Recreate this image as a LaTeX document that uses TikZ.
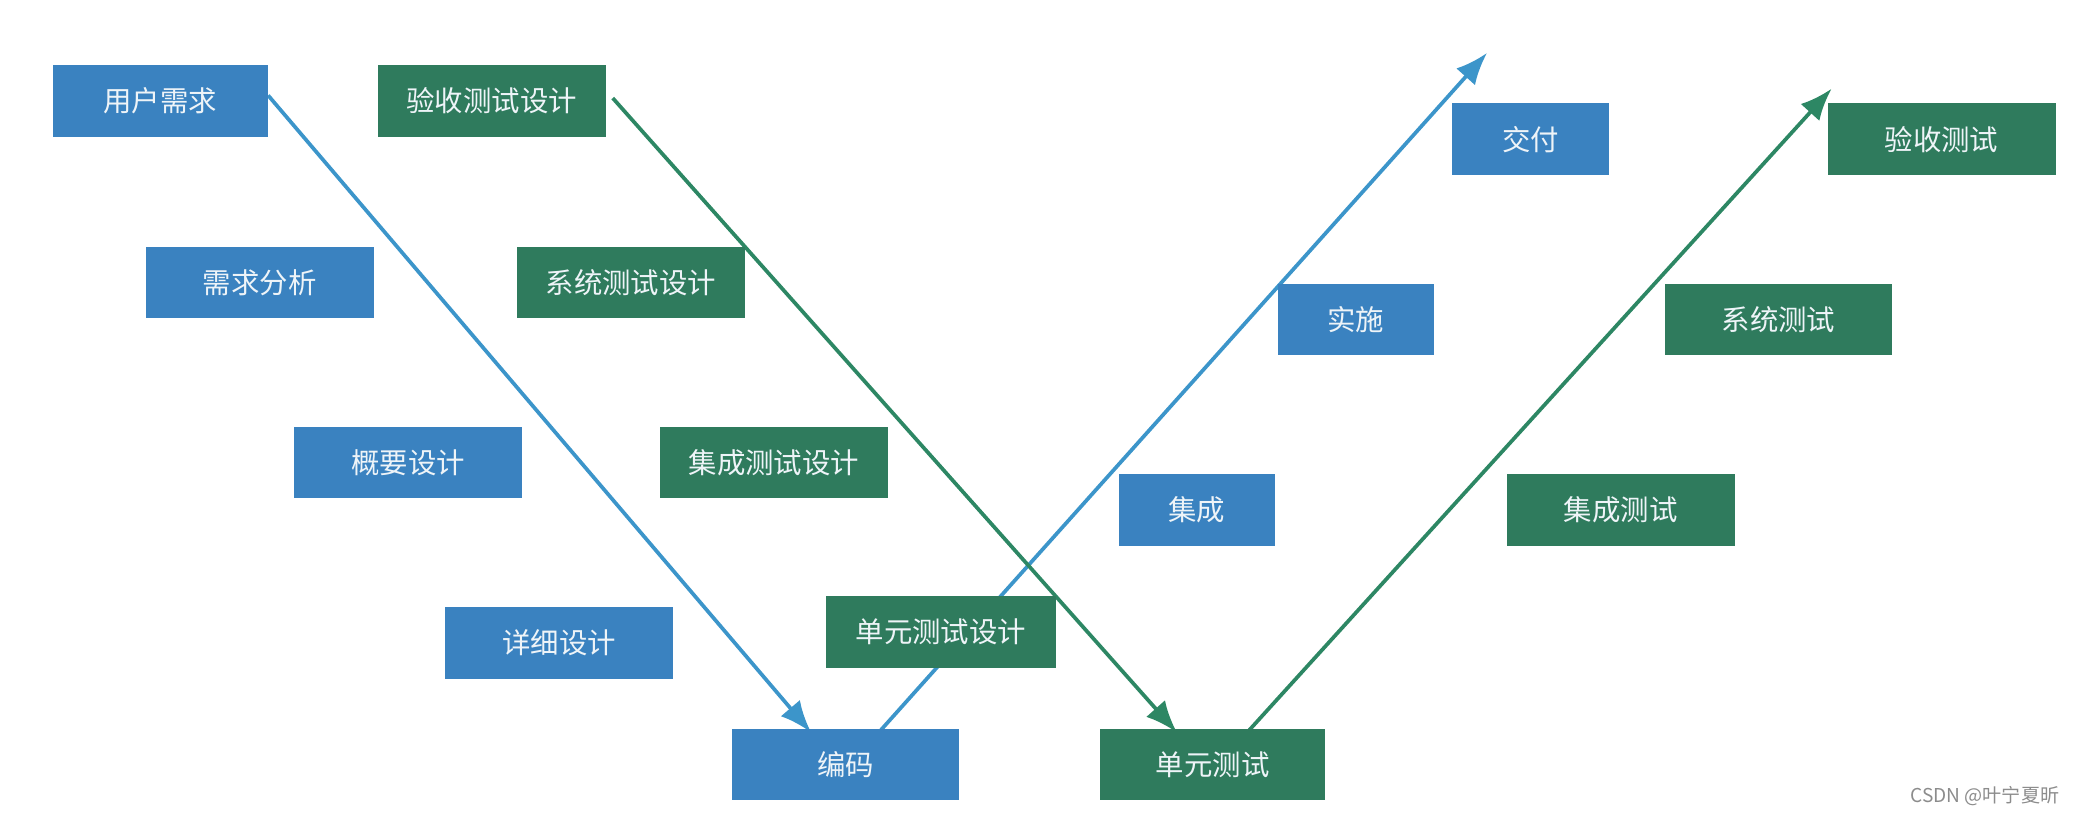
\documentclass[tikz,border=0pt]{standalone}
\usepackage{fontspec}
\setmainfont{Noto Sans CJK SC}
\usetikzlibrary{arrows.meta,backgrounds}
\definecolor{devblue}{HTML}{3A82C0}
\definecolor{testgreen}{HTML}{2F7B5D}
\definecolor{lineblue}{HTML}{3C95CA}
\definecolor{linegreen}{HTML}{2D8764}
\definecolor{boxtext}{HTML}{EEF4F8}

\begin{document}
\begin{tikzpicture}[x=0.2mm,y=-0.2mm,
  box/.style={minimum height=10.8mm,inner sep=0pt,text=boxtext,font=\fontsize{12.2}{12.2}\selectfont},
  devbox/.style={box,fill=devblue,minimum width=34.4mm},
  testbox/.style={box,fill=testgreen,minimum width=34.4mm},
  vline/.style={line width=1.6pt,-{Latex[length=4.8mm,width=3.8mm]}}]
\useasboundingbox (0,0) rectangle (1568,614);
% left side
\node[devbox,minimum width=32.4mm] (req) at (121,76) {用户需求};
\node[devbox] (analysis) at (196,213) {需求分析};
\node[devbox] (arch) at (308,349) {概要设计};
\node[devbox] (detail) at (422,485) {详细设计};
\node[devbox] (code) at (638,577) {编码};
\node[testbox] (atdesign) at (371,76) {验收测试设计};
\node[testbox] (stdesign) at (476,213) {系统测试设计};
\node[testbox] (itdesign) at (584,349) {集成测试设计};
\node[testbox,minimum width=34.8mm] (utdesign) at (710,477) {单元测试设计};
% right side
\node[testbox,minimum width=34mm] (utest) at (915,577) {单元测试};
\node[devbox,minimum width=23.6mm] (integ) at (903,385) {集成};
\node[devbox,minimum width=23.6mm] (impl) at (1023,241) {实施};
\node[devbox,minimum width=23.6mm] (deliv) at (1155,105) {交付};
\node[testbox] (itest) at (1223,385) {集成测试};
\node[testbox] (stest) at (1342,241) {系统测试};
\node[testbox] (atest) at (1465,105) {验收测试};
\path (1122,40) coordinate(devend)
      (1382,67) coordinate(testend);
\begin{scope}[on background layer]
\draw[vline,lineblue] ([yshift=0.8mm]req.east) -- ([xshift=-5.2mm,yshift=-0.6mm]code.north);
\draw[vline,lineblue] ([xshift=5.2mm,yshift=-0.4mm]code.north) -- (devend);
\draw[vline,linegreen] ([xshift=1mm,yshift=0.4mm]atdesign.east) -- ([xshift=-5.4mm,yshift=-0.6mm]utest.north);
\draw[vline,linegreen] ([xshift=5.4mm,yshift=-0.4mm]utest.north) -- (testend);
\end{scope}
\node[anchor=east,text=black!45,font=\fontsize{8.2}{8.2}\selectfont] (mark) at (1560,601) {CSDN @叶宁夏昕};
\end{tikzpicture}
\end{document}
